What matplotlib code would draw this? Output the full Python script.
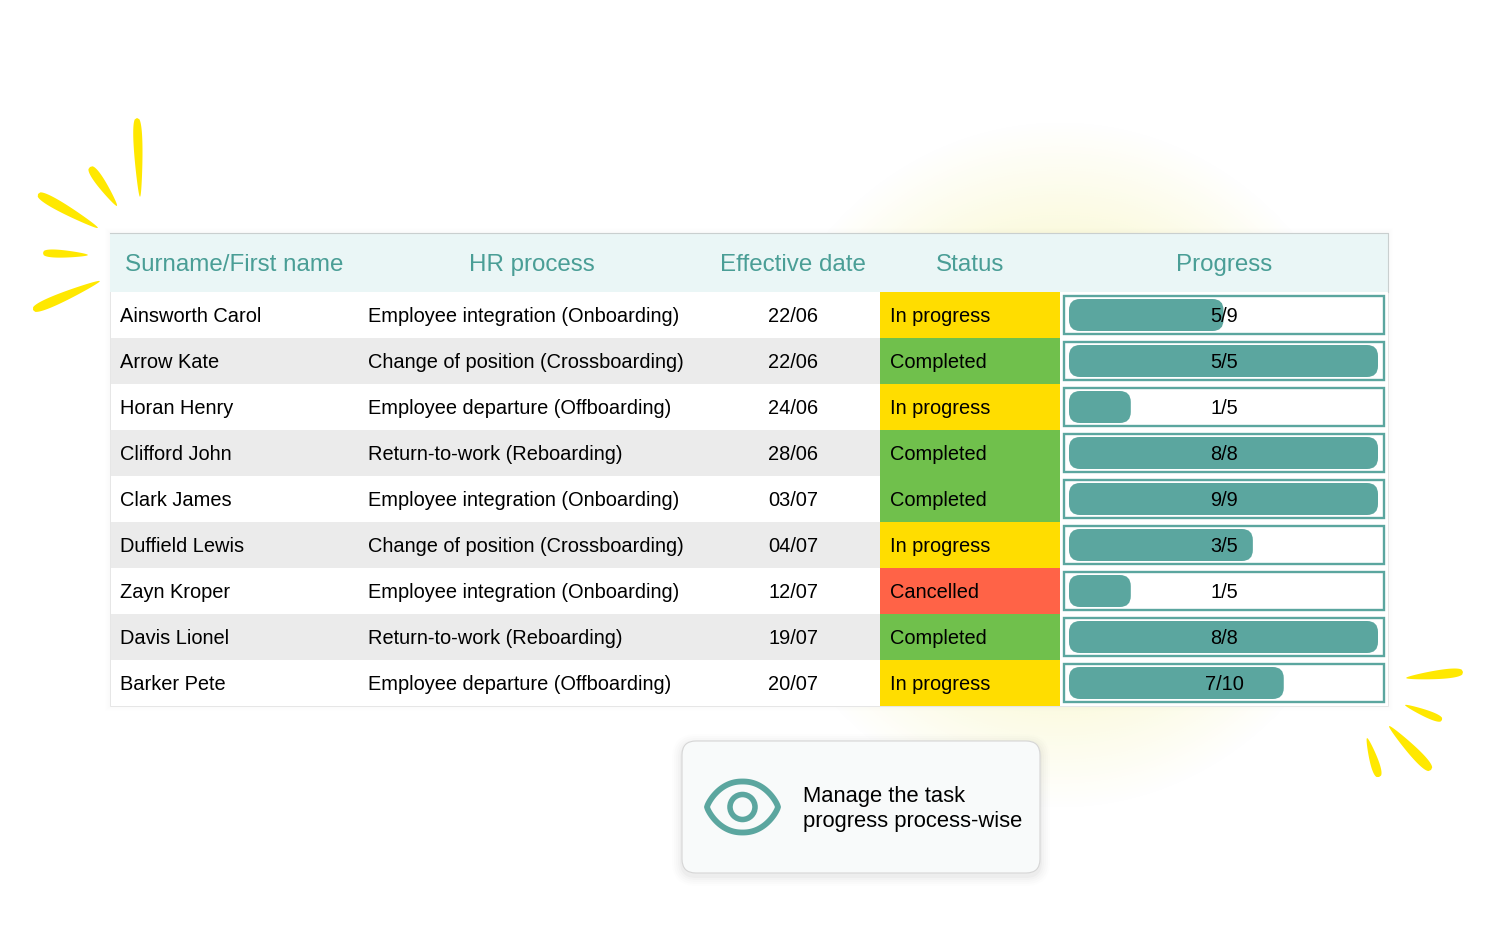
import numpy as np
import matplotlib
matplotlib.use("Agg")
import matplotlib.pyplot as plt
from matplotlib.patches import FancyBboxPatch, Rectangle, Polygon, Circle

plt.rcParams['font.family'] = ['Liberation Sans', 'DejaVu Sans']

# ---- data ----
headers = ["Surname/First name", "HR process", "Effective date", "Status", "Progress"]
names = ["Ainsworth Carol", "Arrow Kate", "Horan Henry", "Clifford John", "Clark James",
         "Duffield Lewis", "Zayn Kroper", "Davis Lionel", "Barker Pete"]
processes = ["Employee integration (Onboarding)", "Change of position (Crossboarding)",
             "Employee departure (Offboarding)", "Return-to-work (Reboarding)",
             "Employee integration (Onboarding)", "Change of position (Crossboarding)",
             "Employee integration (Onboarding)", "Return-to-work (Reboarding)",
             "Employee departure (Offboarding)"]
dates = ["22/06", "22/06", "24/06", "28/06", "03/07", "04/07", "12/07", "19/07", "20/07"]
statuses = ["In progress", "Completed", "In progress", "Completed", "Completed",
            "In progress", "Cancelled", "Completed", "In progress"]
progress_labels = ["5/9", "5/5", "1/5", "8/8", "9/9", "3/5", "1/5", "8/8", "7/10"]
progress_fill = [0.50, 1.0, 0.20, 1.0, 1.0, 0.595, 0.20, 1.0, 0.695]
callout = "Manage the task\nprogress process-wise"

status_colors = {"In progress": "#ffdd00", "Completed": "#70c04c", "Cancelled": "#ff6347"}
TEAL = "#5ba69f"
HEAD_TEXT = "#4a9e96"

# decorative spark strokes: blunt end -> pointed end, width
sparks = [((137, 118), (140, 197), 9.5), ((90, 167), (117, 206), 10), ((38, 194), (98, 228), 10.5),
          ((43, 253), (88, 255), 8.5), ((33, 310), (100, 281), 10.5),
          ((1463, 672), (1406, 678), 10), ((1442, 720), (1405, 705), 8),
          ((1431, 770), (1389, 726), 11), ((1379, 777), (1367, 738), 9.5)]

fig = plt.figure(figsize=(15, 9.4), dpi=100)
ax = fig.add_axes([0, 0, 1, 1])
ax.axis("off")

# pale yellow glow behind the table
gx, gy = np.meshgrid(np.linspace(720, 1400, 340), np.linspace(100, 830, 365))
rr = np.sqrt(((gx - 1060) / 320) ** 2 + ((gy - 465) / 345) ** 2)
glow = np.zeros(gx.shape + (4,))
glow[..., :3] = matplotlib.colors.to_rgb("#f2ee8a")
glow[..., 3] = np.clip(1 - rr, 0, 1) * 0.85
ax.imshow(glow, extent=(720, 1400, 830, 100), zorder=0, aspect="auto", interpolation="bilinear")
ax.set_xlim(0, 1500)
ax.set_ylim(940, 0)

# sparks
for (x0, y0), (x1, y1), w in sparks:
    t = np.linspace(0, 1, 60)
    prof = np.sin(np.pi * t ** 0.6) ** 0.55 * (1 - 0.2 * t) * w / 2
    dx, dy = x1 - x0, y1 - y0
    L = np.hypot(dx, dy)
    nx, ny = -dy / L, dx / L
    xs = x0 + dx * t
    ys = y0 + dy * t
    pts = np.r_[np.c_[xs + nx * prof, ys + ny * prof],
                np.c_[xs - nx * prof, ys - ny * prof][::-1]]
    ax.add_patch(Polygon(pts, closed=True, fc="#ffe800", ec="none", zorder=1))

# table geometry
TL, TR, HT, HB, RH = 110, 1388, 233, 292, 46
n = len(names)
TB = HB + n * RH

# table shadow
for g in range(5, 0, -1):
    ax.add_patch(Rectangle((TL - g, HT - g), TR - TL + 2 * g, TB - HT + 2 * g,
                           fc="#000000", ec="none", alpha=0.005, zorder=2))
ax.add_patch(Rectangle((TL, HT), TR - TL, TB - HT, fc="white", ec="#e6e6e6", lw=0.7, zorder=2.1))
ax.add_patch(Rectangle((TL, HT), TR - TL, HB - HT, fc="#eaf6f6", ec="none", zorder=2.2))
ax.plot([TL, TR, TR], [HT, HT, HB], color="#c9cfcf", lw=0.8, zorder=2.3)

header_pos = [(125, "left"), (532, "center"), (793, "center"), (970, "center"), (1224, "center")]
for h, (x, ha) in zip(headers, header_pos):
    ax.text(x, 265, h, color=HEAD_TEXT, fontsize=17.35, ha=ha, va="center", zorder=5)

BODY = 14.42
for i in range(n):
    top = HB + i * RH
    cy = top + RH / 2 + 2
    if i % 2 == 1:
        ax.add_patch(Rectangle((TL + 1, top), 1060 - TL - 1, RH, fc="#ebebeb", ec="none", zorder=3))
    ax.add_patch(Rectangle((880, top), 180, RH, fc=status_colors[statuses[i]], ec="none", zorder=3.1))
    ax.text(120, cy, names[i], fontsize=BODY, va="center", color="black", zorder=5)
    ax.text(368, cy, processes[i], fontsize=BODY, va="center", color="black", zorder=5)
    ax.text(793, cy, dates[i], fontsize=BODY, va="center", ha="center", color="black", zorder=5)
    ax.text(890, cy, statuses[i], fontsize=BODY, va="center", color="black", zorder=5)
    ax.add_patch(Rectangle((1064, top + 3.5), 320, 38, fc="white", ec=TEAL, lw=1.7, zorder=3.2))
    ax.add_patch(FancyBboxPatch((1069, top + 7), 309 * progress_fill[i], 32,
                                boxstyle="round,pad=0,rounding_size=11",
                                fc=TEAL, ec="none", zorder=3.3))
    ax.text(1224, cy, progress_labels[i], fontsize=BODY, va="center", ha="center",
            color="black", zorder=5)

# callout card
CX, CY, CW, CH = 682, 741, 358, 132
for g, a in zip([10, 8, 6, 4, 2], [0.008, 0.010, 0.012, 0.016, 0.022]):
    ax.add_patch(FancyBboxPatch((CX - g, CY - g + 3), CW + 2 * g, CH + 2 * g,
                                boxstyle=f"round,pad=0,rounding_size={14 + g}",
                                fc="black", ec="none", alpha=a, zorder=6))
ax.add_patch(FancyBboxPatch((CX, CY), CW, CH, boxstyle="round,pad=0,rounding_size=14",
                            fc="#f8fafa", ec="#d6d6d6", lw=0.8, zorder=6.1))
ex, ey, erx, ery = 742.5, 807, 35.5, 25.5
u = np.linspace(-1, 1, 121)
v = ery * (1 - np.abs(u) ** 2.2) ** 0.8
eye_pts = np.r_[np.c_[ex + erx * u, ey - v], np.c_[ex + erx * u, ey + v][::-1]]
ax.add_patch(Polygon(eye_pts, closed=True, fc="none", ec=TEAL, lw=4.2, joinstyle="round", zorder=6.3))
ax.add_patch(Circle((ex, ey), 12.5, fc="none", ec=TEAL, lw=4.0, zorder=6.3))
ax.text(803, 809, callout, fontsize=15.85, va="center", ha="left", color="black",
        linespacing=1.28, zorder=6.4)

fig.savefig("out.png", dpi=100, facecolor="white")
